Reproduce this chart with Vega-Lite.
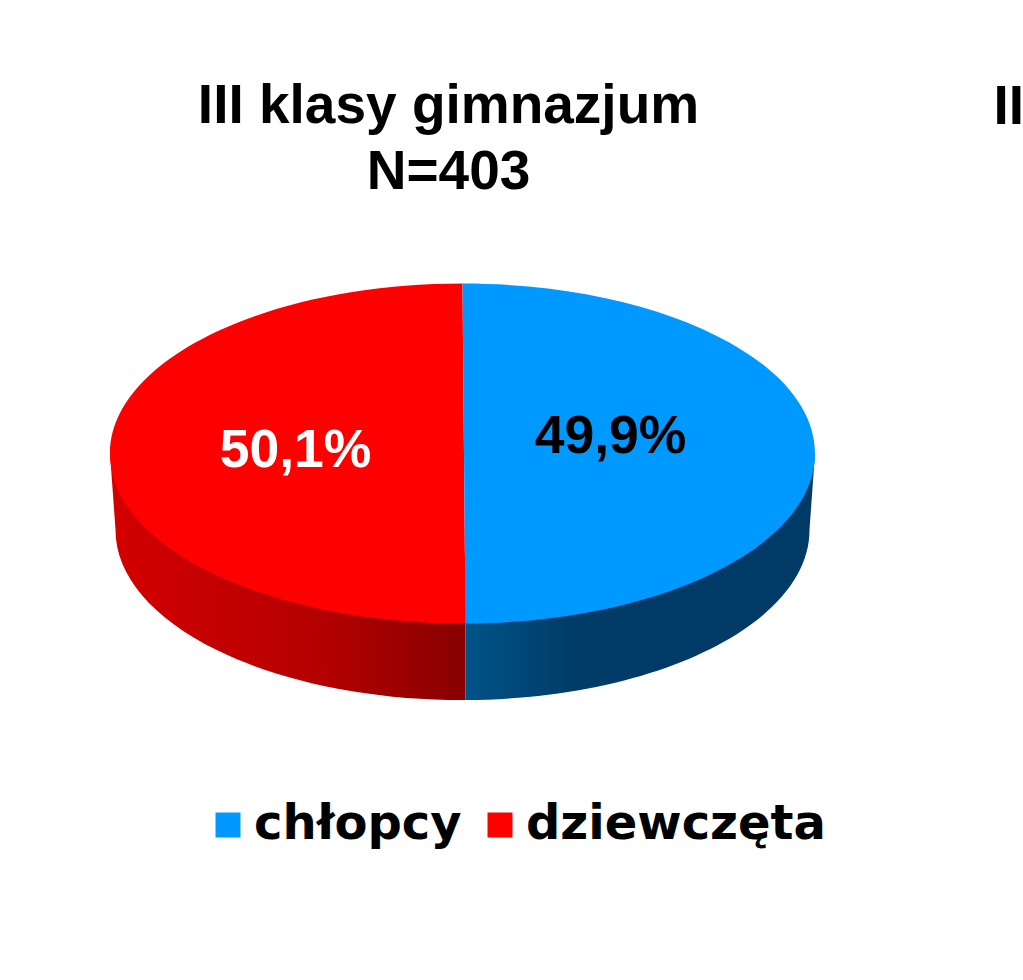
{
  "$schema": "https://vega.github.io/schema/vega-lite/v6.json",
  "width": 925,
  "height": 507,
  "autosize": "none",
  "padding": {"left": 0, "top": 200, "right": 98, "bottom": 273},
  "background": "white",
  "view": {"stroke": null},
  "title": {
    "text": ["III klasy gimnazjum", "N=403"],
    "font": "Liberation Sans",
    "fontSize": 55,
    "fontWeight": "bold",
    "color": "black",
    "lineHeight": 66,
    "anchor": "middle",
    "dx": -14,
    "offset": -121
  },
  "data": {
    "values": [
      {"plec": "chłopcy", "procent": 49.9, "etykieta": "49,9%"},
      {"plec": "dziewczęta", "procent": 50.1, "etykieta": "50,1%"}
    ]
  },
  "transform": [
    {"stack": "procent", "sort": [{"field": "plec"}], "groupby": [], "as": ["p0", "p1"]},
    {"calculate": "(datum.p0 + datum.p1) / 2", "as": "srodek"}
  ],
  "layer": [
    {
      "transform": [{"filter": "datum.plec === 'dziewczęta'"}],
      "mark": {
        "type": "point",
        "filled": true,
        "opacity": 1,
        "size": 4,
        "shape": "M-352.5,0 L-347,76 A347,170 0 0 0 3,246.5 L3,100 Z",
        "color": {
          "x1": 0, "y1": 0, "x2": 1, "y2": 0,
          "gradient": "linear",
          "stops": [
            {"offset": 0, "color": "#d40000"},
            {"offset": 0.6, "color": "#b40000"},
            {"offset": 1, "color": "#880000"}
          ]
        }
      },
      "encoding": {}
    },
    {
      "transform": [{"filter": "datum.plec === 'chłopcy'"}],
      "mark": {
        "type": "point",
        "filled": true,
        "opacity": 1,
        "size": 4,
        "shape": "M352.5,0 L347,76 A347,170 0 0 1 3,246.5 L3,100 Z",
        "color": {
          "x1": 0, "y1": 0, "x2": 1, "y2": 0,
          "gradient": "linear",
          "stops": [
            {"offset": 0, "color": "#005488"},
            {"offset": 0.3, "color": "#003c68"},
            {"offset": 1, "color": "#003a66"}
          ]
        }
      },
      "encoding": {}
    },
    {
      "transform": [{"filter": "datum.plec === 'dziewczęta'"}],
      "mark": {
        "type": "point",
        "filled": true,
        "opacity": 1,
        "size": 4,
        "shape": "M0,-170 L3,170 A352.5,170 0 0 1 -352.5,0 A352.5,170 0 0 1 0,-170 Z"
      },
      "encoding": {
        "color": {
          "field": "plec",
          "type": "nominal",
          "scale": {"domain": ["chłopcy", "dziewczęta"], "range": ["#0099ff", "#ff0000"]},
          "legend": {
            "title": null,
            "orient": "none",
            "legendX": 204,
            "legendY": 601,
            "direction": "horizontal",
            "columns": 2,
            "columnPadding": 14,
            "symbolType": "square",
            "symbolSize": 625,
            "symbolStrokeWidth": 0,
            "symbolOpacity": 1,
            "labelFont": "DejaVu Sans",
            "labelFontWeight": "bold",
            "labelFontSize": 48,
            "labelColor": "black",
            "labelLimit": 400,
            "labelOffset": 2
          }
        }
      }
    },
    {
      "transform": [{"filter": "datum.plec === 'chłopcy'"}],
      "mark": {
        "type": "point",
        "filled": true,
        "opacity": 1,
        "size": 4,
        "shape": "M0,-170 A352.5,170 0 0 1 352.5,0 A352.5,170 0 0 1 3,170 Z"
      },
      "encoding": {
        "color": {"field": "plec", "type": "nominal"}
      }
    },
    {
      "transform": [{"filter": "datum.plec === 'chłopcy'"}],
      "mark": {
        "type": "text",
        "radius": 148,
        "dy": -16,
        "font": "Liberation Sans",
        "fontSize": 53.5,
        "fontWeight": "bold",
        "color": "black"
      },
      "encoding": {
        "theta": {"field": "srodek", "type": "quantitative", "scale": {"domain": [0, 100]}},
        "text": {"field": "etykieta"}
      }
    },
    {
      "transform": [{"filter": "datum.plec === 'dziewczęta'"}],
      "mark": {
        "type": "text",
        "radius": 167,
        "dy": -3,
        "font": "Liberation Sans",
        "fontSize": 53.5,
        "fontWeight": "bold",
        "color": "white"
      },
      "encoding": {
        "theta": {"field": "srodek", "type": "quantitative", "scale": {"domain": [0, 100]}},
        "text": {"field": "etykieta"}
      }
    },
    {
      "transform": [{"filter": "datum.plec === 'chłopcy'"}],
      "mark": {
        "type": "text",
        "align": "left",
        "baseline": "alphabetic",
        "dx": 531,
        "dy": -329.5,
        "font": "Liberation Sans",
        "fontSize": 55,
        "fontWeight": "bold",
        "color": "black"
      },
      "encoding": {
        "text": {"value": "II"}
      }
    }
  ]
}
